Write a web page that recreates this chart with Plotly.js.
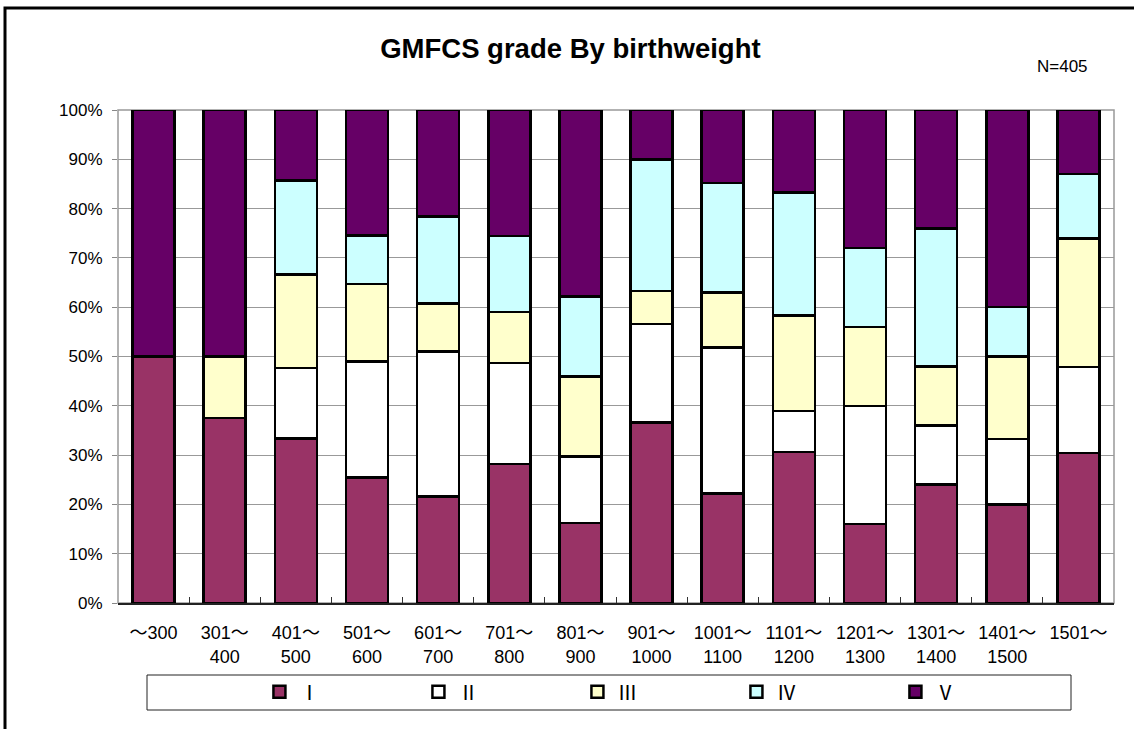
<!DOCTYPE html>
<html>
<head>
<meta charset="utf-8">
<script src="https://cdn.plot.ly/plotly-3.0.1.min.js"></script>
<style>
html,body{margin:0;padding:0;background:#fff;}
#chart{width:1134px;height:729px;}
</style>
</head>
<body>
<div id="chart"></div>
<script>
// Categories (birthweight ranges, g)
var categories = ["～300", "301～<br>400", "401～<br>500", "501～<br>600", "601～<br>700",
  "701～<br>800", "801～<br>900", "901～<br>1000", "1001～<br>1100", "1101～<br>1200",
  "1201～<br>1300", "1301～<br>1400", "1401～<br>1500", "1501～"];

// Share of each GMFCS grade (%)
var gradeI   = [50, 37.5, 33.3, 25.5, 21.6, 28.2, 16.2, 36.7, 22.2, 30.6, 16, 24, 20, 30.4];
var gradeII  = [0, 0, 14.3, 23.5, 29.4, 20.5, 13.5, 20, 29.6, 8.3, 24, 12, 13.3, 17.4];
var gradeIII = [0, 12.5, 19.0, 15.7, 9.8, 10.3, 16.2, 6.7, 11.1, 19.4, 16, 12, 16.7, 26.1];
var gradeIV  = [0, 0, 19.0, 9.8, 17.6, 15.4, 16.2, 26.7, 22.2, 25, 16, 28, 10, 13.0];
var gradeV   = [50, 50, 14.3, 25.5, 21.6, 25.6, 37.8, 10, 14.8, 16.7, 28, 24, 40, 13.0];

var seriesNames = ["Ⅰ", "Ⅱ", "Ⅲ", "Ⅳ", "Ⅴ"];
var seriesValues = [gradeI, gradeII, gradeIII, gradeIV, gradeV];
var seriesColors = ["#993366", "#FFFFFF", "#FFFFCC", "#CCFFFF", "#660066"];

var traces = seriesValues.map(function (vals, i) {
  return {
    type: "bar",
    name: seriesNames[i],
    x: categories,
    y: vals,
    marker: { color: seriesColors[i], line: { color: "#000000", width: 2.5 } },
    hoverinfo: "skip"
  };
});

var tickFont = { family: "Liberation Sans, Arial, Noto Sans CJK JP, sans-serif", size: 17, color: "#000" };

var layout = {
  width: 1134,
  height: 729,
  margin: { l: 118, r: 20, t: 110, b: 126 },
  paper_bgcolor: "#ffffff",
  plot_bgcolor: "#ffffff",
  barmode: "stack",
  barnorm: "percent",
  bargap: 0.41,
  showlegend: true,
  title: {
    text: "<b>GMFCS grade By birthweight</b>",
    font: { family: "Liberation Sans, Arial, sans-serif", size: 27.5, color: "#000" },
    x: 0.503, xanchor: "center",
    y: 0.934, yanchor: "middle"
  },
  xaxis: {
    type: "category",
    tickfont: { family: "Liberation Sans, Arial, Noto Sans CJK JP, sans-serif", size: 18, color: "#000" },
    ticks: "inside",
    tickson: "boundaries",
    ticklen: 6,
    tickcolor: "#333",
    showline: true,
    linecolor: "#222",
    linewidth: 1.5,
    showgrid: false,
    ticklabelstandoff: 13,
    fixedrange: true
  },
  yaxis: {
    range: [0, 100],
    dtick: 10,
    ticksuffix: "%",
    tickfont: tickFont,
    ticks: "outside",
    ticklen: 5,
    tickcolor: "#888",
    showgrid: true,
    gridcolor: "#999999",
    gridwidth: 1,
    zeroline: false,
    showline: false,
    ticklabelstandoff: 6,
    fixedrange: true
  },
  legend: {
    orientation: "h",
    x: 0.142, xanchor: "left",
    y: -0.18, yanchor: "middle",
    entrywidth: 114,
    entrywidthmode: "pixels",
    font: { family: "Noto Sans CJK JP, DejaVu Sans, sans-serif", size: 20, color: "#000" },
    bgcolor: "rgba(0,0,0,0)",
    traceorder: "normal"
  },
  shapes: [
    // plot area frame
    { type: "rect", xref: "paper", yref: "paper", x0: 0, x1: 1, y0: 0, y1: 1,
      line: { color: "#999999", width: 1.5 }, layer: "below" },
    // legend frame
    { type: "rect", xref: "paper", yref: "paper",
      x0: (147 - 118) / 996, x1: (1071 - 118) / 996,
      y0: (603 - 710) / 493, y1: (603 - 675) / 493,
      line: { color: "#222", width: 1 }, layer: "below" },
    // outer chart frame (cropped on right and bottom)
    { type: "rect", xref: "paper", yref: "paper",
      x0: (5 - 118) / 996, x1: (1145 - 118) / 996,
      y0: (603 - 745) / 493, y1: (603 - 8) / 493,
      line: { color: "#000", width: 3 }, layer: "below" }
  ],
  annotations: [
    { text: "N=405", xref: "paper", yref: "paper",
      x: (1090 - 118) / 996, y: (603 - 67) / 493,
      xanchor: "right", yanchor: "middle", showarrow: false,
      font: { family: "Liberation Sans, Arial, sans-serif", size: 17, color: "#000" } }
  ]
};

Plotly.newPlot("chart", traces, layout, { staticPlot: true, displayModeBar: false });
</script>
</body>
</html>
